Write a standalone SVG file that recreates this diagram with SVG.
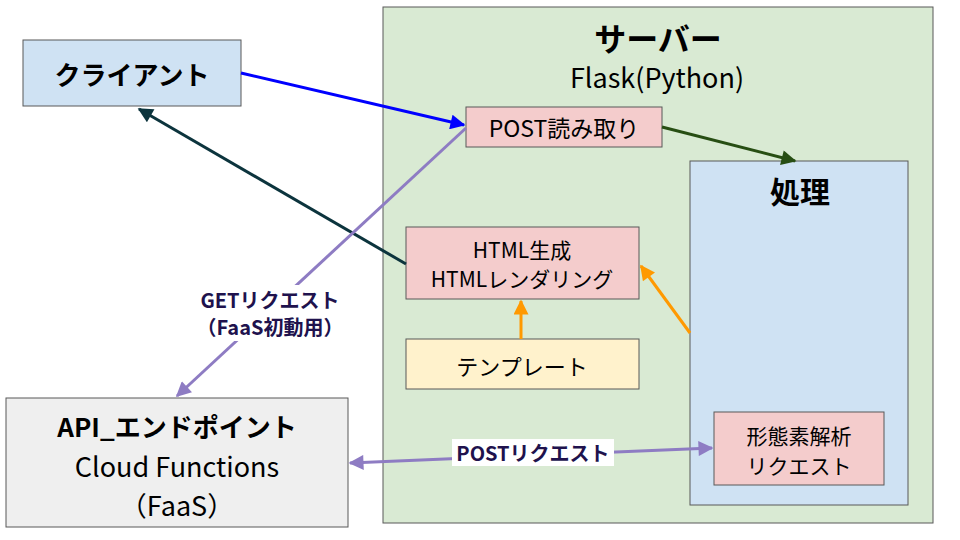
<svg xmlns="http://www.w3.org/2000/svg" width="960" height="540" viewBox="0 0 960 540">
<style>
.box{stroke:#595959;stroke-width:1}
.t{font-family:"Noto Sans CJK JP","Noto Sans",sans-serif;text-anchor:middle;dominant-baseline:central;fill:#000}
.b{font-weight:bold}
.lbl{font-family:"Noto Sans CJK JP","Noto Sans",sans-serif;text-anchor:middle;dominant-baseline:central;fill:#20124d;font-weight:bold}
.ln{fill:none;stroke-width:3}
</style>
<defs>
<marker id="mBlue" viewBox="0 0 10 10" refX="9" refY="5" markerWidth="6" markerHeight="5" orient="auto" markerUnits="strokeWidth"><path d="M0,0L10,5L0,10z" fill="#0000ff"/></marker>
<marker id="mTeal" viewBox="0 0 10 10" refX="9" refY="5" markerWidth="6" markerHeight="5" orient="auto" markerUnits="strokeWidth"><path d="M0,0L10,5L0,10z" fill="#0c343d"/></marker>
<marker id="mGreen" viewBox="0 0 10 10" refX="9" refY="5" markerWidth="6" markerHeight="5" orient="auto" markerUnits="strokeWidth"><path d="M0,0L10,5L0,10z" fill="#274e13"/></marker>
<marker id="mPurple" viewBox="0 0 10 10" refX="9" refY="5" markerWidth="6" markerHeight="5" orient="auto-start-reverse" markerUnits="strokeWidth"><path d="M0,0L10,5L0,10z" fill="#8e7cc3"/></marker>
<marker id="mOrange" viewBox="0 0 10 10" refX="9" refY="5" markerWidth="6" markerHeight="5" orient="auto" markerUnits="strokeWidth"><path d="M0,0L10,5L0,10z" fill="#ff9900"/></marker>
</defs>

<g id="server">
<rect class="box" x="383" y="7" width="550" height="516" fill="#d9ead3"/>
<text class="t b" x="658" y="37" font-size="32">サーバー</text>
<text class="t" x="657" y="76" font-size="27">Flask(Python)</text>
</g>

<g id="client">
<rect class="box" x="23" y="40" width="218" height="66" fill="#cfe2f3"/>
<text class="t b" x="132" y="73" font-size="26">クライアント</text>
</g>

<g id="post-read">
<rect class="box" x="466" y="107" width="196" height="40" fill="#f4cccc"/>
<text class="t" x="564" y="127" font-size="23">POST読み取り</text>
</g>

<g id="process">
<rect class="box" x="690" y="161" width="218" height="344" fill="#cfe2f3"/>
<text class="t b" x="800" y="190" font-size="30">処理</text>
</g>

<g id="html">
<rect class="box" x="406" y="227" width="233" height="72" fill="#f4cccc"/>
<text class="t" x="522" y="249" font-size="21">HTML生成</text>
<text class="t" x="522" y="278" font-size="21">HTMLレンダリング</text>
</g>

<g id="template">
<rect class="box" x="406" y="339" width="233" height="50" fill="#fff2cc"/>
<text class="t" x="522" y="365" font-size="22">テンプレート</text>
</g>

<g id="morph">
<rect class="box" x="714" y="412" width="170" height="73" fill="#f4cccc"/>
<text class="t" x="799" y="435" font-size="21">形態素解析</text>
<text class="t" x="799" y="465" font-size="21">リクエスト</text>
</g>

<g id="api">
<rect class="box" x="6" y="398" width="342" height="129" fill="#efefef"/>
<text class="t b" x="177" y="425" font-size="26">API_エンドポイント</text>
<text class="t" x="177" y="465" font-size="27">Cloud Functions</text>
<text class="t" x="177" y="504" font-size="27">（FaaS）</text>
</g>

<g id="connectors">
<line class="ln" x1="241" y1="73" x2="464" y2="125" stroke="#0000ff" marker-end="url(#mBlue)"/>
<line class="ln" x1="406" y1="264" x2="139" y2="109" stroke="#0c343d" marker-end="url(#mTeal)"/>
<line class="ln" x1="662" y1="127" x2="795" y2="161" stroke="#274e13" marker-end="url(#mGreen)"/>
<line class="ln" x1="466" y1="128" x2="177" y2="396" stroke="#8e7cc3" marker-end="url(#mPurple)"/>
<line class="ln" x1="521" y1="339" x2="521" y2="301" stroke="#ff9900" marker-end="url(#mOrange)"/>
<line class="ln" x1="690" y1="333" x2="641" y2="266" stroke="#ff9900" marker-end="url(#mOrange)"/>
<line class="ln" x1="350" y1="463" x2="712" y2="448" stroke="#8e7cc3" marker-start="url(#mPurple)" marker-end="url(#mPurple)"/>
<rect x="197" y="285" width="146" height="56" fill="#ffffff"/>
<text class="lbl" x="270" y="299" font-size="20">GETリクエスト</text>
<text class="lbl" x="270" y="326" font-size="20">（FaaS初動用）</text>
<rect x="452" y="439" width="162" height="27" fill="#ffffff"/>
<text class="lbl" x="533" y="452" font-size="20">POSTリクエスト</text>
</g>
</svg>
